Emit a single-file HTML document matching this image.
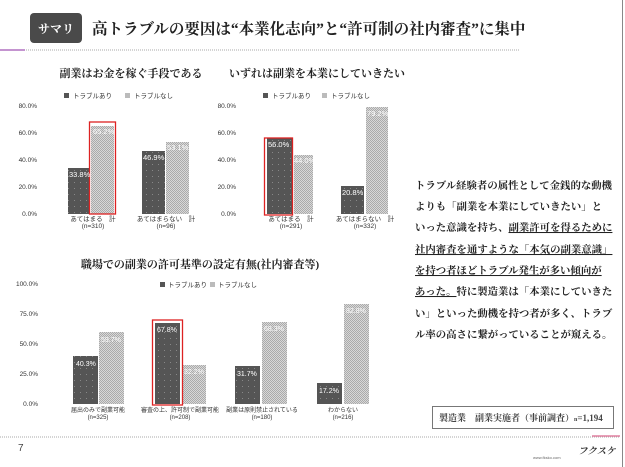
<!DOCTYPE html>
<html><head><meta charset="utf-8"><style>
body{margin:0;background:#fff;width:625px;height:467px;overflow:hidden}
svg{display:block}
.s{font-family:"Liberation Sans","Noto Sans CJK JP",sans-serif}
.m{font-family:"Liberation Serif","Noto Serif CJK SC",serif;font-weight:bold}
</style></head><body>
<svg width="625" height="467" xmlns="http://www.w3.org/2000/svg">
<defs>
<pattern id="dk" width="6" height="6" patternUnits="userSpaceOnUse"><rect width="6" height="6" fill="#555"/><rect x="2" y="2" width="1" height="1" fill="#888"/></pattern>
<pattern id="lt" width="2" height="2" patternUnits="userSpaceOnUse"><rect width="2" height="2" fill="#d8d8d8"/><rect width="1" height="1" fill="#aaa"/><rect x="1" y="1" width="1" height="1" fill="#aaa"/></pattern>
</defs>
<line x1="622.5" y1="0" x2="622.5" y2="467" stroke="#888" stroke-width="1"/>
<rect x="30" y="13" width="52" height="30" rx="4" fill="#4a4a4a"/>
<text x="56" y="33" class="m" font-size="12" fill="#fff" text-anchor="middle">サマリ</text>
<text x="92" y="34" class="m" font-size="15.5" fill="#222">高トラブルの要因は“本業化志向”と“許可制の社内審査”に集中</text>
<line x1="0" y1="50" x2="520" y2="50" stroke="#aaa" stroke-dasharray="1,1"/>
<line x1="0" y1="50" x2="25" y2="50" stroke="#b070c0" stroke-width="1.5"/>
<line x1="0" y1="437" x2="620" y2="437" stroke="#aaa" stroke-dasharray="1,1"/>
<line x1="592" y1="436" x2="620" y2="436" stroke="#e080a0" stroke-width="1.5"/>
<text x="18" y="451" class="s" font-size="10" fill="#444">7</text>
<text x="578" y="454" class="m" font-size="9.5" font-style="italic" fill="#333">フクスケ</text>
<text x="533" y="459" class="s" font-size="4" fill="#666">www.fksko.com</text>

<g class="s" font-size="6.5" fill="#333">
<!-- chart1 -->
<text x="131" y="77" class="m" font-size="11" fill="#222" text-anchor="middle">副業はお金を稼ぐ手段である</text>
<rect x="64" y="93" width="5" height="5" fill="#555"/><text x="73" y="98">トラブルあり</text>
<rect x="125" y="93" width="5" height="5" fill="#bbb"/><text x="134" y="98">トラブルなし</text>
<text x="37" y="108" text-anchor="end">80.0%</text><text x="37" y="135" text-anchor="end">60.0%</text><text x="37" y="162" text-anchor="end">40.0%</text><text x="37" y="189" text-anchor="end">20.0%</text><text x="37" y="216" text-anchor="end">0.0%</text>
<rect x="68" y="168" width="21" height="46" fill="url(#dk)"/><rect x="91" y="126" width="23" height="88" fill="url(#lt)"/>
<rect x="89.5" y="122" width="26" height="92" fill="none" stroke="#d22" stroke-width="1.3"/>
<rect x="142" y="151" width="23" height="63" fill="url(#dk)"/><rect x="166" y="142" width="23" height="72" fill="url(#lt)"/>
<g fill="#fff" font-size="7.5"><text x="69" y="177">33.8%</text><text x="93" y="134">65.2%</text><text x="143" y="160">46.9%</text><text x="167" y="150">53.1%</text></g>
<text x="93" y="221" text-anchor="middle">あてはまる　計</text><text x="93" y="228" text-anchor="middle">(n=310)</text>
<text x="166" y="221" text-anchor="middle">あてはまらない　計</text><text x="166" y="228" text-anchor="middle">(n=96)</text>
<!-- chart2 -->
<text x="317" y="77" class="m" font-size="11" fill="#222" text-anchor="middle">いずれは副業を本業にしていきたい</text>
<rect x="263" y="93" width="5" height="5" fill="#555"/><text x="272" y="98">トラブルあり</text>
<rect x="322" y="93" width="5" height="5" fill="#bbb"/><text x="331" y="98">トラブルなし</text>
<text x="236" y="108" text-anchor="end">80.0%</text><text x="236" y="135" text-anchor="end">60.0%</text><text x="236" y="162" text-anchor="end">40.0%</text><text x="236" y="189" text-anchor="end">20.0%</text><text x="236" y="216" text-anchor="end">0.0%</text>
<rect x="267" y="138" width="25" height="76" fill="url(#dk)"/><rect x="294" y="155" width="19" height="59" fill="url(#lt)"/>
<rect x="264.5" y="138" width="28" height="77" fill="none" stroke="#d22" stroke-width="1.3"/>
<rect x="341" y="186" width="23" height="28" fill="url(#dk)"/><rect x="366" y="107" width="22" height="107" fill="url(#lt)"/>
<g fill="#fff" font-size="7.5"><text x="268" y="147">56.0%</text><text x="294" y="163">44.0%</text><text x="342" y="195">20.8%</text><text x="367" y="116">79.2%</text></g>
<text x="291" y="221" text-anchor="middle">あてはまる　計</text><text x="291" y="228" text-anchor="middle">(n=291)</text>
<text x="365" y="221" text-anchor="middle">あてはまらない　計</text><text x="365" y="228" text-anchor="middle">(n=332)</text>
<!-- chart3 -->
<text x="200" y="268" class="m" font-size="11" fill="#222" text-anchor="middle">職場での副業の許可基準の設定有無(社内審査等)</text>
<rect x="160" y="282" width="5" height="5" fill="#555"/><text x="168" y="287">トラブルあり</text>
<rect x="210" y="282" width="5" height="5" fill="#bbb"/><text x="218" y="287">トラブルなし</text>
<text x="38" y="286" text-anchor="end">100.0%</text><text x="38" y="316" text-anchor="end">75.0%</text><text x="38" y="346" text-anchor="end">50.0%</text><text x="38" y="376" text-anchor="end">25.0%</text><text x="38" y="406" text-anchor="end">0.0%</text>
<rect x="73" y="356" width="25" height="48" fill="url(#dk)"/><rect x="99" y="332" width="25" height="72" fill="url(#lt)"/>
<rect x="155" y="323" width="25" height="81" fill="url(#dk)"/><rect x="182" y="365" width="24" height="39" fill="url(#lt)"/>
<rect x="152.5" y="320" width="30" height="85" fill="none" stroke="#d22" stroke-width="1.3"/>
<rect x="235" y="366" width="25" height="38" fill="url(#dk)"/><rect x="262" y="322" width="25" height="82" fill="url(#lt)"/>
<rect x="317" y="383" width="25" height="21" fill="url(#dk)"/><rect x="344" y="304" width="25" height="100" fill="url(#lt)"/>
<g fill="#fff" font-size="7"><text x="76" y="366">40.3%</text><text x="101" y="342">59.7%</text><text x="157" y="332">67.8%</text><text x="184" y="374">32.2%</text><text x="237" y="376">31.7%</text><text x="264" y="331">68.3%</text><text x="319" y="393">17.2%</text><text x="346" y="313">82.8%</text></g>
<g font-size="6"><text x="98" y="412" text-anchor="middle">届出のみで副業可能</text><text x="98" y="419" text-anchor="middle">(n=325)</text>
<text x="180" y="412" text-anchor="middle">審査の上、許可制で副業可能</text><text x="180" y="419" text-anchor="middle">(n=208)</text>
<text x="262" y="412" text-anchor="middle">副業は原則禁止されている</text><text x="262" y="419" text-anchor="middle">(n=180)</text>
<text x="343" y="412" text-anchor="middle">わからない</text><text x="343" y="419" text-anchor="middle">(n=216)</text></g>
</g>

<g class="m" font-size="10.4" fill="#222">
<text x="415" y="189">トラブル経験者の属性として金銭的な動機</text>
<text x="415" y="210">よりも「副業を本業にしていきたい」と</text>
<text x="415" y="231">いった意識を持ち、<tspan text-decoration="underline">副業許可を得るために</tspan></text>
<text x="415" y="253" text-decoration="underline">社内審査を通すような「本気の副業意識」</text>
<text x="415" y="274" text-decoration="underline">を持つ者ほどトラブル発生が多い傾向が</text>
<text x="415" y="295"><tspan text-decoration="underline">あった。</tspan>特に製造業は「本業にしていきた</text>
<text x="415" y="317">い」といった動機を持つ者が多く、トラブ</text>
<text x="415" y="338">ル率の高さに繋がっていることが窺える。</text>
</g>
<rect x="432.5" y="406.5" width="181" height="22" fill="none" stroke="#777"/>
<text x="439" y="421" class="m" font-size="9" fill="#444" font-weight="normal">製造業　副業実施者（事前調査）<tspan font-size="6">n</tspan>=1,194</text>
</svg>
</body></html>
